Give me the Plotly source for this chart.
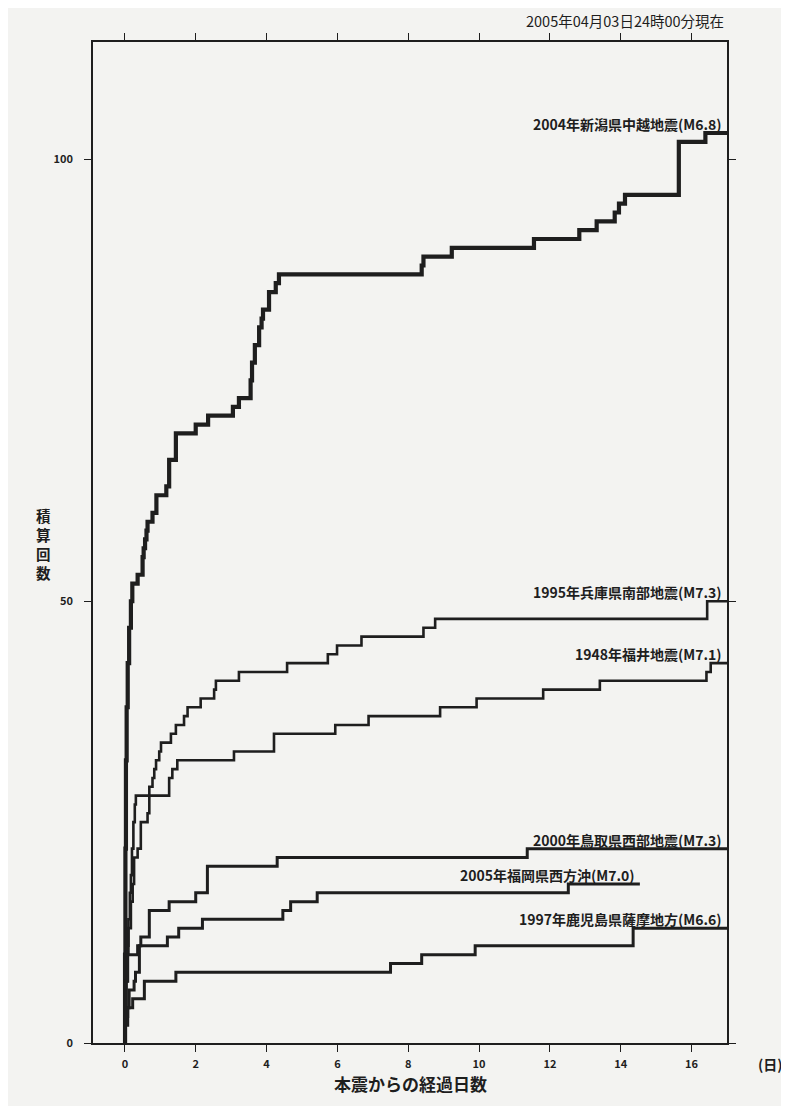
import plotly.graph_objects as go

# ---- data (days since mainshock, cumulative count) ----
niigata_days = [0, 0.005, 0.015, 0.03, 0.05, 0.08, 0.12, 0.17, 0.21, 0.36, 0.50, 0.53, 0.57, 0.61, 0.64,
                0.78, 0.89, 1.17, 1.25, 1.44, 2.00, 2.35, 3.05, 3.22, 3.55, 3.59, 3.67, 3.79, 3.86, 3.90,
                4.07, 4.26, 4.35, 8.38, 8.43, 9.23, 11.55, 12.83, 13.32, 13.83, 13.95, 14.12, 15.64, 16.39, 17.0]
niigata_counts = [0, 10, 22, 32, 38, 43, 47, 50, 52, 53, 55, 56, 57, 58, 59,
                  60, 62, 63, 66, 69, 70, 71, 72, 73, 75, 77, 79, 81, 82, 83,
                  85, 86, 87, 88, 89, 90, 91, 92, 93, 94, 95, 96, 102, 103, 103]

hyogo_days = [0, 0.01, 0.03, 0.06, 0.10, 0.17, 0.22, 0.26, 0.36, 0.45, 0.64, 0.69, 0.78, 0.83, 0.88, 0.97,
              1.02, 1.30, 1.44, 1.67, 1.77, 2.14, 2.52, 2.57, 3.22, 4.58, 5.73, 5.99, 6.68, 8.43, 8.76,
              16.44, 17.0]
hyogo_counts = [0, 3, 7, 10, 13, 16, 18, 21, 22, 25, 26, 29, 30, 31, 32, 33,
                34, 35, 36, 37, 38, 39, 40, 41, 42, 43, 44, 45, 46, 47, 48,
                50, 50]

fukui_days = [0, 0.01, 0.03, 0.06, 0.10, 0.14, 0.17, 0.20, 0.24, 0.28, 0.31, 1.25, 1.34, 1.48, 3.08,
              4.21, 5.94, 6.88, 8.90, 9.93, 11.81, 13.41, 16.42, 16.54, 17.0]
fukui_counts = [0, 3, 7, 11, 14, 17, 19, 22, 25, 27, 28, 30, 31, 32, 33,
                35, 36, 37, 38, 39, 40, 41, 42, 43, 43]

tottori_days = [0, 0.01, 0.04, 0.08, 0.36, 0.45, 0.69, 1.25, 2.00, 2.33, 4.30, 11.36, 17.0]
tottori_counts = [0, 3, 7, 10, 11, 12, 15, 16, 17, 20, 21, 22, 22]

fukuoka_days = [0, 0.01, 0.08, 0.12, 0.26, 0.30, 0.41, 1.20, 1.52, 2.19, 4.46, 4.68, 5.43, 12.52, 14.54]
fukuoka_counts = [0, 2, 4, 6, 7, 8, 11, 12, 13, 14, 15, 16, 17, 18, 18]

kagoshima_days = [0, 0.01, 0.08, 0.22, 0.55, 1.44, 7.50, 8.38, 9.89, 14.35, 17.0]
kagoshima_counts = [0, 3, 4, 5, 7, 8, 9, 10, 11, 13, 13]

series_names = ["2004年新潟県中越地震(M6.8)", "1995年兵庫県南部地震(M7.3)", "1948年福井地震(M7.1)",
                "2000年鳥取県西部地震(M7.3)", "2005年福岡県西方沖(M7.0)", "1997年鹿児島県薩摩地方(M6.6)"]
series_days = [niigata_days, hyogo_days, fukui_days, tottori_days, fukuoka_days, kagoshima_days]
series_counts = [niigata_counts, hyogo_counts, fukui_counts, tottori_counts, fukuoka_counts, kagoshima_counts]
series_widths = [4.2, 2.6, 2.6, 3.0, 3.0, 3.0]

x_ticks = [0, 2, 4, 6, 8, 10, 12, 14, 16]
y_ticks = [0, 50, 100]

FONT = "Noto Sans CJK JP"
INK = "#1e1e1e"
BG = "#f3f3f1"

fig = go.Figure()
for name, d, c, w in zip(series_names, series_days, series_counts, series_widths):
    fig.add_trace(go.Scatter(x=d, y=c, mode="lines", name=name,
                             line=dict(shape="hv", color=INK, width=w),
                             showlegend=False, hoverinfo="skip"))
    fig.add_annotation(x=d[-1], y=c[-1], xref="x", yref="y", text="<b>%s</b>" % name,
                       showarrow=False, xanchor="right", yanchor="middle", xshift=-3, yshift=9,
                       font=dict(family=FONT, size=14, color=INK))

fig.update_layout(
    width=781, height=1098,
    margin=dict(l=84.5, r=61.5, t=34.3, b=63.3),
    paper_bgcolor=BG, plot_bgcolor=BG,
    font=dict(family=FONT, color=INK),
    xaxis=dict(range=[-0.9, 17.0], tickvals=x_ticks, ticktext=[str(v) for v in x_ticks],
               showgrid=False, zeroline=False, showline=True, linecolor=INK, linewidth=1.6,
               mirror="ticks", ticks="outside", ticklen=7, tickwidth=1.3, tickcolor=INK,
               ticklabelstandoff=3,
               tickfont=dict(family=FONT, size=11, color=INK, weight="bold")),
    yaxis=dict(range=[0, 113.3], tickvals=y_ticks, ticktext=[str(v) for v in y_ticks],
               showgrid=False, zeroline=False, showline=True, linecolor=INK, linewidth=1.6,
               mirror="ticks", ticks="outside", ticklen=7, tickwidth=1.3, tickcolor=INK,
               ticklabelstandoff=9,
               tickfont=dict(family=FONT, size=11, color=INK, weight="bold")),
)

# header text
fig.add_annotation(x=1.0, y=1.0, xref="paper", yref="paper", text="2005年04月03日24時00分現在",
                   showarrow=False, xanchor="right", yanchor="bottom", yshift=9, xshift=-1,
                   font=dict(family=FONT, size=14.5, color=INK))
# x title
fig.add_annotation(x=0.5, y=0, xref="paper", yref="paper", text="<b>本震からの経過日数</b>",
                   showarrow=False, xanchor="center", yanchor="middle", yshift=-40,
                   font=dict(family=FONT, size=17, color=INK))
# unit
fig.add_annotation(x=1.0, y=0, xref="paper", yref="paper", text="<b>(日)</b>",
                   showarrow=False, xanchor="center", yanchor="middle", xshift=43, yshift=-21,
                   font=dict(family=FONT, size=14, color=INK))
# y title, stacked vertically
fig.add_annotation(x=0, y=0.5, xref="paper", yref="paper", text="<b>積<br>算<br>回<br>数</b>",
                   showarrow=False, xanchor="center", yanchor="middle",
                   xshift=-50, yshift=(1042.7 - 544) - 500.2,
                   font=dict(family=FONT, size=14.5, color=INK))

fig.write_html("out.html")
